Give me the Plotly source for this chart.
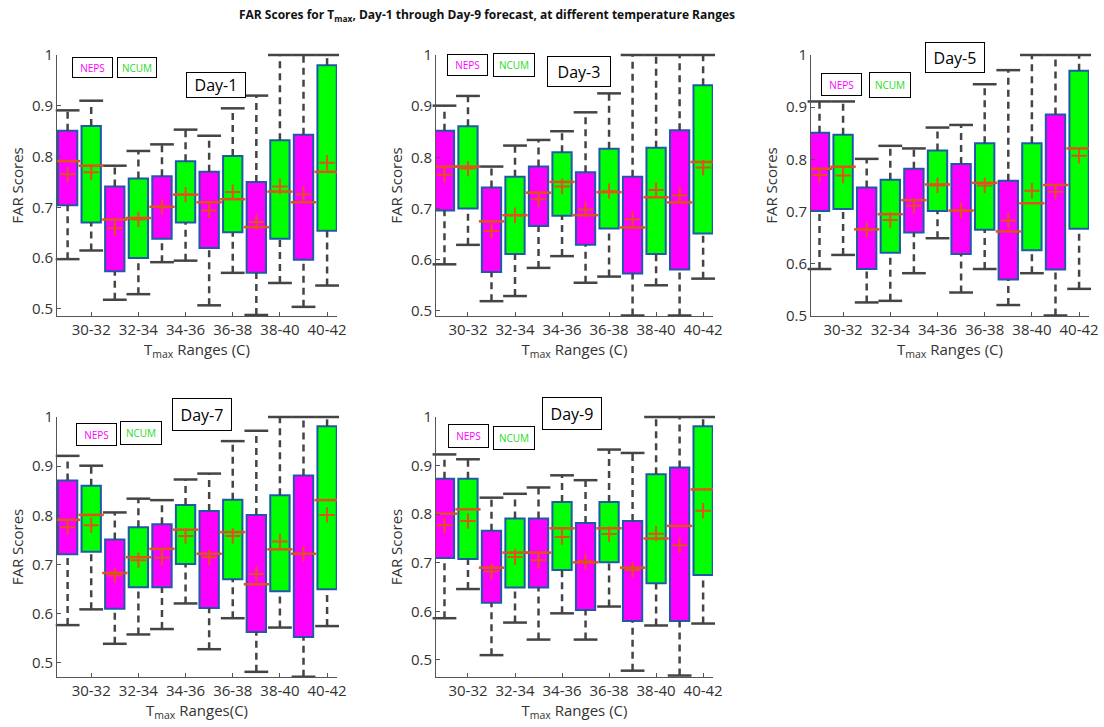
import plotly.graph_objects as go

# ---------------- data ----------------
ranges = ["30-32", "32-34", "34-36", "36-38", "38-40", "40-42"]
models = ["NEPS", "NCUM"]
days = ["Day-1", "Day-3", "Day-5", "Day-7", "Day-9"]

# 12 boxes per panel: NEPS, NCUM for each temperature range
d1_low = [0.598, 0.615, 0.518, 0.529, 0.592, 0.595, 0.507, 0.571, 0.488, 0.551, 0.504, 0.546]
d1_q1 = [0.704, 0.670, 0.574, 0.600, 0.638, 0.670, 0.620, 0.651, 0.571, 0.638, 0.597, 0.654]
d1_med = [0.791, 0.782, 0.676, 0.679, 0.701, 0.725, 0.710, 0.716, 0.661, 0.731, 0.710, 0.770]
d1_q3 = [0.851, 0.860, 0.741, 0.757, 0.761, 0.791, 0.770, 0.801, 0.750, 0.832, 0.843, 0.980]
d1_up = [0.891, 0.910, 0.782, 0.811, 0.824, 0.853, 0.841, 0.895, 0.920, 1.0, 1.0, 1.0]
d1_mean = [0.765, 0.769, 0.659, 0.676, 0.701, 0.725, 0.694, 0.730, 0.671, 0.741, 0.726, 0.788]

d3_low = [0.591, 0.629, 0.519, 0.529, 0.584, 0.607, 0.555, 0.567, 0.491, 0.550, 0.491, 0.563]
d3_q1 = [0.696, 0.700, 0.576, 0.611, 0.666, 0.686, 0.629, 0.661, 0.573, 0.611, 0.581, 0.651]
d3_med = [0.782, 0.782, 0.675, 0.687, 0.731, 0.752, 0.687, 0.732, 0.663, 0.722, 0.712, 0.791]
d3_q3 = [0.852, 0.861, 0.741, 0.762, 0.782, 0.810, 0.771, 0.817, 0.762, 0.819, 0.853, 0.941]
d3_up = [0.901, 0.920, 0.782, 0.823, 0.834, 0.851, 0.888, 0.925, 1.0, 1.0, 1.0, 1.0]
d3_mean = [0.766, 0.778, 0.656, 0.687, 0.718, 0.743, 0.698, 0.734, 0.679, 0.736, 0.726, 0.780]

d5_low = [0.590, 0.617, 0.526, 0.529, 0.582, 0.649, 0.545, 0.590, 0.521, 0.582, 0.501, 0.552]
d5_q1 = [0.701, 0.705, 0.590, 0.621, 0.660, 0.701, 0.619, 0.665, 0.570, 0.626, 0.589, 0.667]
d5_med = [0.782, 0.786, 0.666, 0.695, 0.722, 0.752, 0.702, 0.755, 0.662, 0.716, 0.751, 0.821]
d5_q3 = [0.851, 0.847, 0.746, 0.761, 0.782, 0.817, 0.791, 0.831, 0.759, 0.831, 0.886, 0.970]
d5_up = [0.911, 0.911, 0.801, 0.826, 0.821, 0.861, 0.866, 0.944, 0.971, 1.0, 1.0, 1.0]
d5_mean = [0.770, 0.769, 0.665, 0.684, 0.711, 0.750, 0.702, 0.750, 0.683, 0.740, 0.738, 0.807]

d7_low = [0.577, 0.609, 0.539, 0.558, 0.569, 0.621, 0.528, 0.591, 0.482, 0.572, 0.472, 0.575]
d7_q1 = [0.721, 0.726, 0.610, 0.654, 0.654, 0.701, 0.612, 0.670, 0.563, 0.646, 0.553, 0.650]
d7_med = [0.791, 0.801, 0.683, 0.715, 0.732, 0.771, 0.722, 0.766, 0.660, 0.731, 0.722, 0.831]
d7_q3 = [0.871, 0.860, 0.751, 0.776, 0.782, 0.821, 0.809, 0.832, 0.801, 0.841, 0.881, 0.981]
d7_up = [0.921, 0.901, 0.806, 0.834, 0.831, 0.873, 0.885, 0.951, 0.972, 1.0, 1.0, 1.0]
d7_mean = [0.776, 0.780, 0.678, 0.709, 0.714, 0.758, 0.715, 0.758, 0.681, 0.747, 0.722, 0.801]

d9_low = [0.586, 0.646, 0.510, 0.577, 0.542, 0.596, 0.542, 0.610, 0.478, 0.571, 0.468, 0.575]
d9_q1 = [0.710, 0.708, 0.618, 0.649, 0.649, 0.685, 0.603, 0.701, 0.580, 0.658, 0.580, 0.675]
d9_med = [0.801, 0.810, 0.690, 0.721, 0.721, 0.771, 0.701, 0.771, 0.690, 0.750, 0.776, 0.851]
d9_q3 = [0.873, 0.873, 0.766, 0.791, 0.791, 0.825, 0.782, 0.825, 0.786, 0.882, 0.896, 0.981]
d9_up = [0.923, 0.913, 0.834, 0.842, 0.855, 0.880, 0.870, 0.933, 0.926, 1.0, 1.0, 1.0]
d9_mean = [0.777, 0.786, 0.682, 0.712, 0.705, 0.753, 0.703, 0.759, 0.685, 0.760, 0.736, 0.807]

y_ticks = [0.5, 0.6, 0.7, 0.8, 0.9, 1.0]
y_ticktext = ["0.5", "0.6", "0.7", "0.8", "0.9", "1"]

panels = [
    (d1_low, d1_q1, d1_med, d1_q3, d1_up, d1_mean),
    (d3_low, d3_q1, d3_med, d3_q3, d3_up, d3_mean),
    (d5_low, d5_q1, d5_med, d5_q3, d5_up, d5_mean),
    (d7_low, d7_q1, d7_med, d7_q3, d7_up, d7_mean),
    (d9_low, d9_q1, d9_med, d9_q3, d9_up, d9_mean),
]

# ---------------- styling / layout ----------------
W, H = 1104, 727
FONT = "Open Sans"
TXT = "#333333"
AXC = "#555555"
C_NEPS = "#ff00ff"
C_NCUM = "#00ff00"
C_EDGE = "#1f5aa8"
C_MED = "#e0521c"
C_WHISK = "#444444"


def px(x):
    return x / W


def py(y):
    return 1 - y / H


# pixel frames of each axes: (left, right, top, bottom), y-range bottom, x-range left
frames = [
    (57, 337, 55, 316, 0.486, 0.55),
    (436, 713, 55, 316, 0.490, 0.64),
    (811, 1089, 55, 316, 0.500, 0.64),
    (57, 337, 417, 677, 0.4715, 0.55),
    (436, 713, 417, 677, 0.465, 0.64),
]
xtitles = ["T<sub>max</sub> Ranges (C)"] * 3 + ["T<sub>max</sub> Ranges(C)", "T<sub>max</sub> Ranges (C)"]

fig = go.Figure()
n = len(ranges) * len(models)
pos = [i + 1 for i in range(n)]
box_w = 0.82

layout_axes = {}
for k, (low, q1, med, q3, up, mean) in enumerate(panels):
    xa = "x" if k == 0 else f"x{k+1}"
    ya = "y" if k == 0 else f"y{k+1}"
    # whiskers (dashed), drawn from box edges to caps
    wx, wy = [], []
    for i in range(n):
        wx += [pos[i], pos[i], None, pos[i], pos[i], None]
        wy += [low[i], q1[i], None, q3[i], up[i], None]
    fig.add_trace(go.Scatter(x=wx, y=wy, mode="lines", xaxis=xa, yaxis=ya,
                             line=dict(color=C_WHISK, width=2.5, dash="7px,5px"),
                             hoverinfo="skip", showlegend=False, cliponaxis=False))
    # caps
    fig.add_trace(go.Scatter(x=pos + pos, y=low + up, mode="markers", xaxis=xa, yaxis=ya,
                             marker=dict(symbol="line-ew-open", size=17, color=C_WHISK,
                                         line=dict(color=C_WHISK, width=2.5)),
                             hoverinfo="skip", showlegend=False, cliponaxis=False))
    # boxes
    for m, (model, col) in enumerate(zip(models, [C_NEPS, C_NCUM])):
        idx = list(range(m, n, 2))
        fig.add_trace(go.Bar(x=[pos[i] for i in idx],
                             y=[q3[i] - q1[i] for i in idx],
                             base=[q1[i] for i in idx],
                             width=box_w, xaxis=xa, yaxis=ya,
                             marker=dict(color=col, line=dict(color=C_EDGE, width=2)),
                             name=model, showlegend=False))
    # medians
    fig.add_trace(go.Scatter(x=pos, y=med, mode="markers", xaxis=xa, yaxis=ya,
                             marker=dict(symbol="line-ew-open", size=18, color=C_MED,
                                         line=dict(color=C_MED, width=2.5)),
                             showlegend=False, name="median"))
    # means
    fig.add_trace(go.Scatter(x=pos, y=mean, mode="markers", xaxis=xa, yaxis=ya,
                             marker=dict(symbol="cross-thin-open", size=11, color=C_MED,
                                         line=dict(color=C_MED, width=2)),
                             showlegend=False, name="mean"))

    l, r, t, b, ybot, xleft = frames[k]
    xkey = "xaxis" if k == 0 else f"xaxis{k+1}"
    ykey = "yaxis" if k == 0 else f"yaxis{k+1}"
    layout_axes[xkey] = dict(
        domain=[px(l), px(r)], anchor=ya, range=[xleft, 12.42], automargin=False,
        tickvals=pos[1::2], ticktext=ranges, ticks="inside", ticklen=4,
        tickcolor=AXC, showline=True, linecolor=AXC, linewidth=1,
        showgrid=False, zeroline=False,
        tickfont=dict(family=FONT, size=15, color=TXT),
        title=dict(text=xtitles[k], font=dict(family=FONT, size=15, color=TXT), standoff=0),
    )
    layout_axes[ykey] = dict(
        domain=[py(b), py(t)], anchor=xa, range=[ybot, 1.0], automargin=False,
        tickvals=y_ticks, ticktext=y_ticktext, ticks="inside", ticklen=4,
        tickcolor=AXC, showline=True, linecolor=AXC, linewidth=1,
        showgrid=False, zeroline=False,
        tickfont=dict(family=FONT, size=15, color=TXT),
        title=dict(text="FAR Scores", font=dict(family=FONT, size=15, color=TXT), standoff=4),
    )

annotations = []


def box_label(text, cx, cy, w, h, color, size):
    annotations.append(dict(
        text=text, x=px(cx), y=py(cy), xref="paper", yref="paper",
        xanchor="center", yanchor="middle", showarrow=False,
        font=dict(family=FONT, size=size, color=color),
        bordercolor="#000000", borderwidth=1, borderpad=0,
        bgcolor="#ffffff", width=w - 2, height=h - 2,
    ))


# Day labels and model legend boxes (pixel centre x, centre y, width, height)
day_boxes = [(216, 85, 60, 26), (579, 71.5, 64, 31), (955, 57.5, 60, 31),
             (202, 414.5, 60, 33), (572, 413.5, 60, 33)]
neps_boxes = [(92.5, 67.5, 41, 21), (467.5, 65, 41, 22), (841.5, 84.5, 41, 23),
              (96.5, 434.5, 41, 23), (468.5, 436, 41, 24)]
ncum_boxes = [(137, 67.5, 40, 21), (514, 65, 42, 24), (890, 85, 42, 26),
              (141, 433, 42, 24), (514, 438, 42, 24)]
for k in range(len(days)):
    cx, cy, w, h = day_boxes[k]
    box_label(days[k], cx, cy, w, h, "#000000", 16)
    cx, cy, w, h = neps_boxes[k]
    box_label(models[0], cx, cy, w, h, C_NEPS, 10)
    cx, cy, w, h = ncum_boxes[k]
    box_label(models[1], cx, cy, w, h, "#22dd22", 10)

fig.update_layout(
    width=W, height=H, margin=dict(l=0, r=0, t=0, b=0),
    paper_bgcolor="#ffffff", plot_bgcolor="#ffffff",
    barmode="overlay", showlegend=False,
    title=dict(text="<b>FAR Scores for T<sub>max</sub>, Day-1 through Day-9 forecast, at different temperature Ranges</b>",
               x=487 / W, xanchor="center", y=py(15), yanchor="middle",
               font=dict(family=FONT, size=12, color="#111111")),
    annotations=annotations,
    **layout_axes,
)

fig.write_html("out.html")
